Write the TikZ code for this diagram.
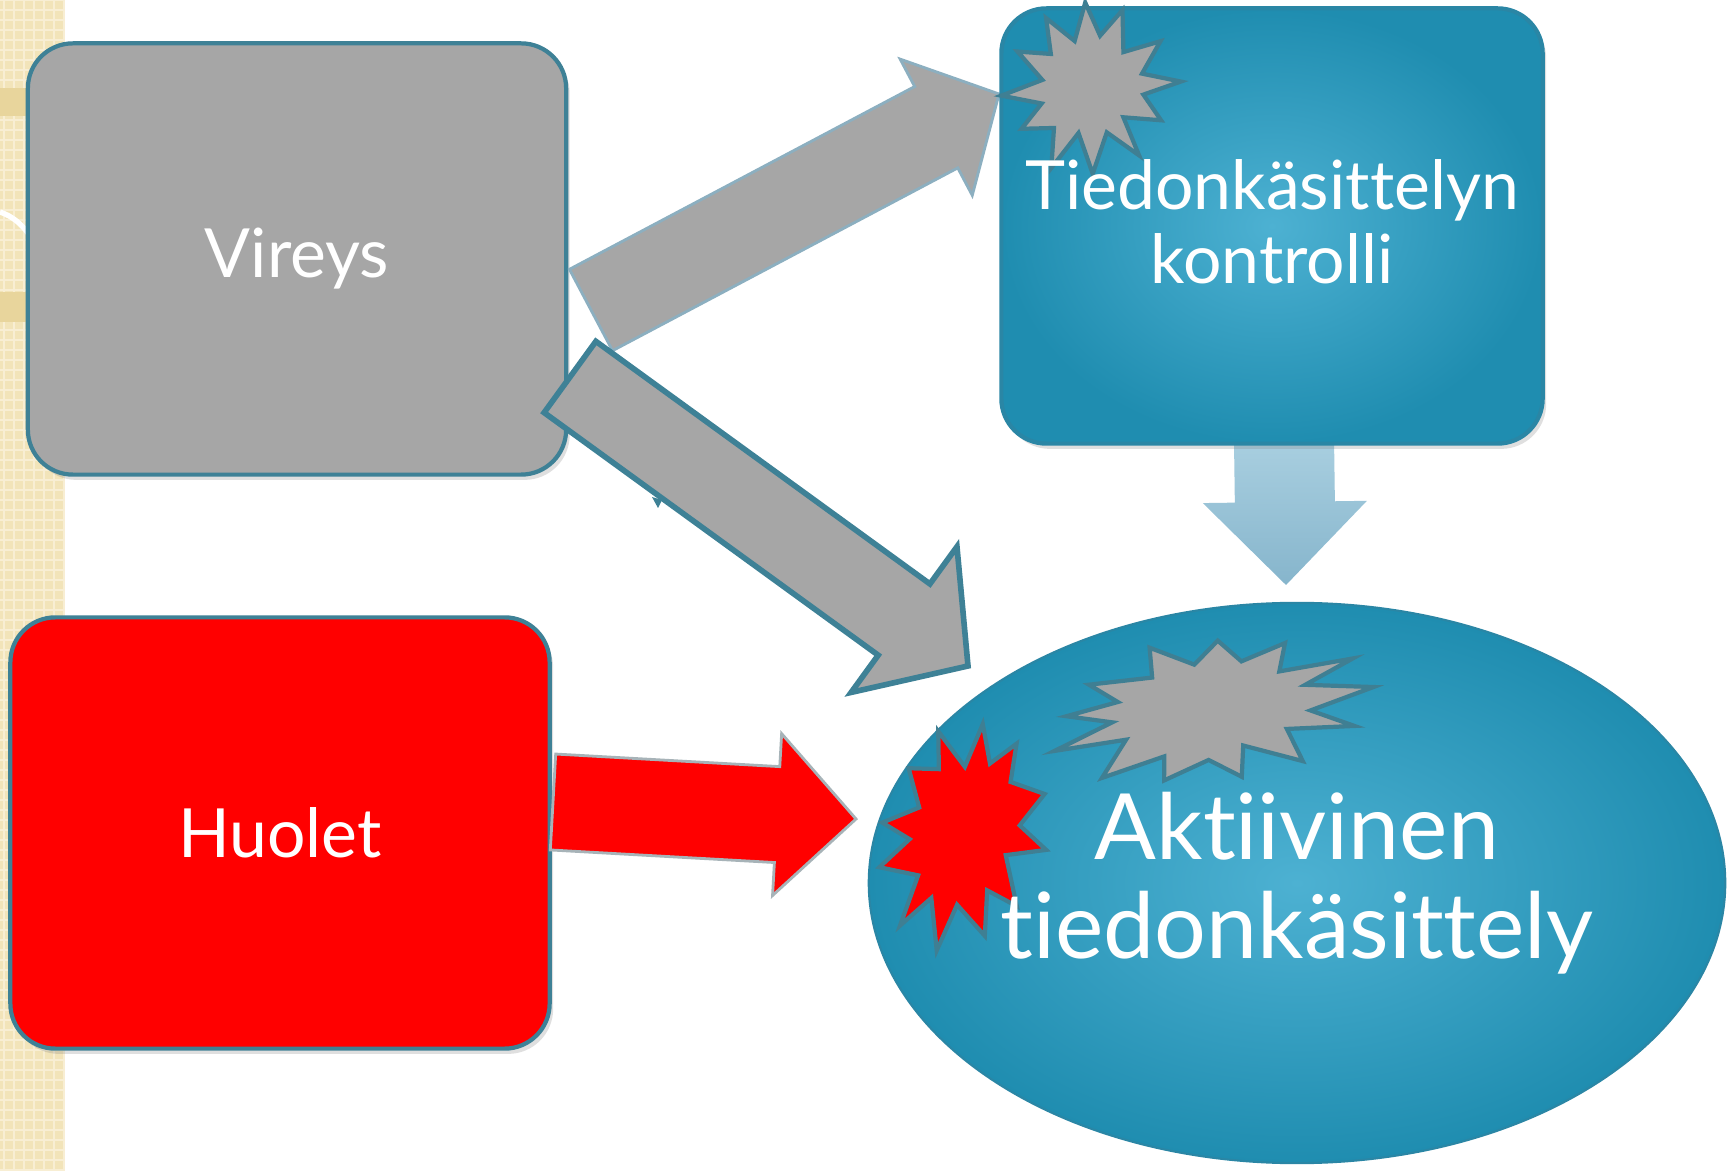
\documentclass[tikz,border=0pt]{standalone}
\usepackage{fontspec}
\setmainfont{Lato}[Ligatures={NoCommon,NoRare,NoDiscretionary}]
\usetikzlibrary{calc,shapes.geometric,shadows}
\definecolor{boxgray}{HTML}{A6A6A6}
\definecolor{boxedge}{HTML}{3E8196}
\definecolor{tealin}{HTML}{4DB1D2}
\definecolor{tealout}{HTML}{1F8DB0}
\definecolor{tealedge}{HTML}{2A86A5}
\definecolor{ctltop}{HTML}{A9CFE0}
\definecolor{ctlbot}{HTML}{86B5CC}
\definecolor{arrowedge}{HTML}{8CAFC0}
\definecolor{redarrowedge}{HTML}{A7B3B8}
\definecolor{burstedge}{HTML}{3F7F93}
\definecolor{stripbg}{HTML}{F2E4B9}
\definecolor{stripgrid}{HTML}{F8EED3}
\definecolor{stripdark}{HTML}{E8D59C}

\begin{document}
\begin{tikzpicture}[x=0.01cm,y=-0.01cm,line join=miter]
    \tikzstyle{panel}=[rectangle,rounded corners=0.45cm,draw=boxedge,line width=1.2pt,minimum width=5.38cm,minimum height=4.31cm,drop shadow={opacity=0.25,shadow xshift=1pt,shadow yshift=-1.5pt}]
    \tikzstyle{tealfill}=[inner color=tealin,outer color=tealout]
    \tikzstyle{boxtext}=[text=white,align=center,font=\fontsize{19.3}{21}\selectfont]
    \tikzstyle{bigtext}=[text=white,align=center,font=\fontsize{26}{28}\selectfont]
    \tikzstyle{grayarrow}=[fill=boxgray,draw=arrowedge,line width=0.8pt]
    \tikzstyle{grayarrowdark}=[fill=boxgray,draw=boxedge,line width=1.6pt]
    \tikzstyle{redarrow}=[fill=red,draw=redarrowedge,line width=0.8pt]
    \tikzstyle{ctlarrow}=[top color=ctltop,bottom color=ctlbot,draw=none]
    \tikzstyle{burst}=[draw=burstedge,line width=1.2pt]

    \fill[white] (0,0) rectangle (1731,1171);
    \useasboundingbox (0,0) rectangle (1731,1171);
    \fill[stripbg] (0,0) rectangle (64,1171);
    \foreach \y in {0,10,...,1170}
        \draw[stripgrid,line width=0.6pt] (0,\y) -- (64,\y);
    \foreach \x in {4,14,...,64}
        \draw[stripgrid,line width=0.6pt] (\x,0) -- (\x,1171);
    \fill[stripdark] (0,88) rectangle (64,116);
    \fill[stripdark] (0,292) rectangle (64,322);
    \draw[white,line width=1.5pt] (0,212) .. controls (12,216) and (22,224) .. (30,236);

    \node[panel,fill=boxgray] (vireys) at (297,259) {};
    \node[panel,fill=red,minimum width=5.39cm] (huolet) at (280,833) {};

    \coordinate (up-tail) at (591,310);
    \coordinate (up-tip) at (999,94);
    \coordinate (dn-tail) at (570,377);
    \coordinate (dn-tip) at (968,666);
    \coordinate (red-tail) at (553,802);
    \coordinate (red-tip) at (856,819);
    \coordinate (ctl-tail) at (1284,440);
    \coordinate (ctl-tip) at (1286,585);
    \foreach \from/\to/\sw/\hw/\hl/\sty in {up-tail/up-tip/0.46cm/0.77cm/0.71cm/grayarrow,
        dn-tail/dn-tip/0.44cm/0.90cm/0.79cm/grayarrowdark,
        red-tail/red-tip/0.48cm/0.81cm/0.79cm/redarrow,
        ctl-tail/ctl-tip/0.50cm/0.82cm/0.83cm/ctlarrow}
    {
        \path ($(\to)!\hl!(\from)$) coordinate (head-base);
        \draw[\sty] ($(\from)!\sw!90:(\to)$) -- ($(head-base)!\sw!-90:(\from)$)
            -- ($(head-base)!\hw!-90:(\from)$) -- (\to) -- ($(head-base)!\hw!90:(\from)$)
            -- ($(head-base)!\sw!90:(\from)$) -- ($(\from)!\sw!-90:(\to)$) -- cycle;
    }
    \fill[boxedge] (652,497) -- (662,500) -- (658,508) -- cycle;

    \node[panel,tealfill,draw=tealedge,minimum width=5.41cm,minimum height=4.35cm] (tiedon) at (1272,226) {};
    \node[ellipse,tealfill,draw=tealedge,line width=0.6pt,minimum width=8.56cm,minimum height=5.6cm] (aktiivinen) at (1297,883) {};

    \pgfmathsetseed{5}
    \foreach \cx/\cy/\rx/\ry/\rot/\n/\ratio/\col in {1089/88/92/88/4/12/0.55/boxgray,
        1210/710/165/76/8/13/0.6/boxgray,
        962/832/86/122/-12/12/0.6/red}
    {
        \pgfmathtruncatemacro\last{2*\n-1}
        \draw[burst,fill=\col,shift={(\cx,\cy)},rotate=\rot,xscale=\rx,yscale=\ry]
            (0:1) \foreach \i [evaluate=\i as \r using {ifthenelse(mod(\i,2)==0,0.86+0.14*rnd,\ratio*(0.9+0.2*rnd))},
                evaluate=\i as \a using {\i*180/\n+4*rand}] in {1,...,\last} { -- (\a:\r) } -- cycle;
    }

    \node[boxtext] (vireys-text) at (vireys) {Vireys};
    \node[boxtext] (huolet-text) at (huolet) {Huolet};
    \node[boxtext] (tiedon-text) at ([yshift=0.04cm]tiedon) {Tiedonkäsittelyn\\kontrolli};
    \node[bigtext] (aktiivinen-text) at (aktiivinen) {Aktiivinen\\tiedonkäsittely};
\end{tikzpicture}
\end{document}
